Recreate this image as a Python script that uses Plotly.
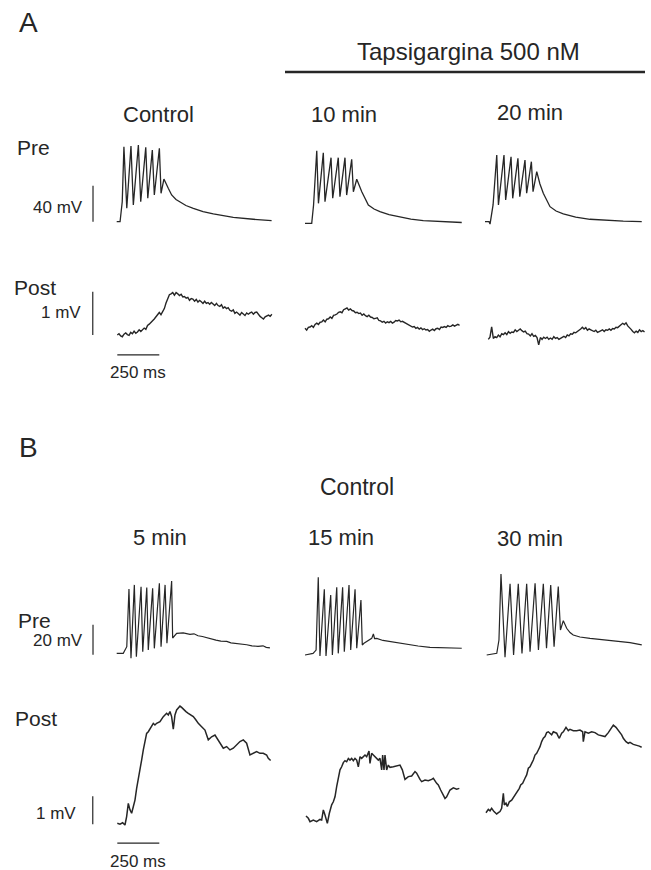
import numpy as np
import plotly.graph_objects as go

W, H = 651, 870
INK = "#262626"
FONT = "Liberation Sans, Arial, Helvetica, sans-serif"
PX_PER_MS = 42 / 250.0  # horizontal scale shared by all traces

# ---------------- DATA (time in ms, membrane potential in mV) ----------------
# Panel A, presynaptic (Pre)
a_ctrl_pre_t = [0, 20, 33, 43, 60, 85, 99, 129, 143, 173, 185, 212, 224, 254, 264, 281,
                307, 327, 353, 377, 412, 456, 514, 575, 694, 813, 922]
a_ctrl_pre_v = [0, 0, 22.2, 83.3, 14.9, 84.1, 18.6, 85.2, 22.2, 82.7, 26, 79.7, 29.7, 81.6, 31.6, 47.4,
                37.1, 29.7, 24.7, 21.9, 18, 14.9, 11.3, 8.6, 4.9, 2.7, 1.1]

a_10_pre_t = [0, 40, 51, 70, 80, 109, 119, 155, 165, 198, 208, 238, 248, 278, 288, 308, 338,
              377, 411, 446, 500, 565, 630, 704, 933]
a_10_pre_v = [0, 0, 20.3, 80.7, 22.2, 78.4, 24, 72.9, 27.8, 72.9, 29.6, 72.9, 31.4, 71.1, 35.1, 48.9, 35.1,
              20.3, 15.9, 12.9, 9.6, 6.7, 4.6, 2.9, 0.9]

a_20_pre_t = [0, 24, 30, 48, 70, 80, 113, 123, 155, 165, 196, 207, 238, 248, 276, 286, 308, 327,
              347, 387, 423, 466, 540, 625, 823, 933]
a_20_pre_v = [0, 0, -2.6, 18.6, 74.1, 18.6, 74.1, 24.1, 72.2, 26, 70.4, 27.8, 68.5, 31.6, 66.7, 33.3, 55.6, 41.9,
              31.6, 16.7, 11.9, 8.6, 5.2, 2.7, 0.6, 0]

# Panel A, postsynaptic (Post), sampled every 10 ms
a_post_dt = 10
a_ctrl_post_v = [0.00, 0.03, -0.02, -0.04, 0.02, 0.05, 0.01, -0.01, 0.06, 0.03, 0.09, 0.04,
                 0.07, 0.12, 0.08, 0.11, 0.16, 0.13, 0.22, 0.25, 0.28, 0.33, 0.37, 0.42,
                 0.45, 0.52, 0.47, 0.55, 0.61, 0.74, 0.86, 0.93, 0.95, 0.98, 0.92, 0.98,
                 0.95, 0.91, 0.94, 0.88, 0.89, 0.85, 0.87, 0.80, 0.84, 0.83, 0.78, 0.82,
                 0.76, 0.80, 0.77, 0.73, 0.78, 0.73, 0.75, 0.71, 0.75, 0.72, 0.68, 0.73,
                 0.68, 0.66, 0.70, 0.62, 0.65, 0.61, 0.63, 0.57, 0.55, 0.58, 0.50, 0.53,
                 0.49, 0.46, 0.52, 0.49, 0.45, 0.51, 0.48, 0.51, 0.53, 0.48, 0.52, 0.53,
                 0.47, 0.43, 0.40, 0.37, 0.42, 0.44, 0.46, 0.43, 0.48]
a_10_post_v = [0.00, -0.04, 0.02, 0.03, 0.06, 0.02, 0.09, 0.12, 0.09, 0.14, 0.15, 0.19,
               0.15, 0.21, 0.22, 0.26, 0.23, 0.30, 0.31, 0.33, 0.37, 0.38, 0.36, 0.43,
               0.45, 0.47, 0.42, 0.45, 0.41, 0.40, 0.36, 0.37, 0.34, 0.35, 0.30, 0.33,
               0.29, 0.27, 0.30, 0.26, 0.25, 0.22, 0.23, 0.24, 0.18, 0.17, 0.14, 0.16,
               0.12, 0.15, 0.13, 0.16, 0.12, 0.14, 0.18, 0.17, 0.19, 0.15, 0.16, 0.14,
               0.12, 0.10, 0.07, 0.05, 0.03, 0.04, 0.00, 0.02, -0.02, 0.01, -0.03, -0.01,
               -0.04, -0.03, -0.07, -0.04, -0.02, -0.05, -0.01, 0.00, -0.03, 0.03, 0.02, 0.04,
               0.02, 0.06, 0.04, 0.05, 0.08, 0.05, 0.08, 0.09, 0.07]
a_20_post_v = [-0.10, -0.05, 0.19, -0.08, -0.04, -0.06, 0.00, -0.04, 0.03, 0.01, 0.05, 0.01,
               0.08, 0.04, 0.07, 0.06, 0.12, 0.08, 0.11, 0.14, 0.10, 0.07, 0.09, 0.03,
               0.02, -0.02, 0.03, -0.03, -0.01, -0.06, -0.23, -0.06, -0.10, -0.05, -0.08, -0.05,
               -0.10, -0.07, -0.10, -0.04, -0.08, -0.06, -0.10, -0.07, -0.05, -0.03, -0.06, 0.00,
               -0.02, 0.03, 0.02, 0.06, 0.05, 0.09, 0.11, 0.14, 0.18, 0.14, 0.17, 0.11,
               0.14, 0.12, 0.09, 0.08, 0.11, 0.06, 0.08, 0.10, 0.12, 0.08, 0.12, 0.11,
               0.14, 0.11, 0.15, 0.14, 0.18, 0.17, 0.21, 0.24, 0.27, 0.24, 0.28, 0.21,
               0.18, 0.13, 0.08, 0.05, 0.09, 0.06, 0.12, 0.08, 0.10, 0.07]

# Panel B, presynaptic (Pre)
b_5_pre_t = [0, 39, 60, 73, 85, 105, 117, 145, 155, 179, 188, 214, 224, 254, 264, 288, 299, 327, 333, 357,
             396, 436, 460, 484, 510, 536, 565, 591, 620, 655, 680, 710, 740, 774, 805, 841, 871, 890, 912]
b_5_pre_v = [0, 0, 4.4, 42.9, -3.3, 45.6, -2.3, 44.4, 1.1, 43.8, 2.2, 43.4, 3.3, 46.7, 4.4, 45.6, 6.7, 48.2, 10.2, 13.3,
             13.6, 12.6, 13.0, 11.7, 11.2, 10.3, 9.4, 8.8, 8.1, 7.9, 7.0, 6.7, 6.0, 5.7, 5.0, 4.6, 5.0, 4.0, 3.6]

b_15_pre_t = [0, 48, 66, 79, 89, 115, 125, 153, 163, 189, 198, 224, 234, 262, 272, 298, 308, 333, 341, 351,
              397, 407, 414, 427, 464, 506, 554, 605, 673, 744, 833, 933]
b_15_pre_v = [0, 1.1, 3.3, 51.8, -0.7, 43.8, -0.7, 40, 0, 45.2, 1.1, 45.2, 2.2, 46.7, 3.3, 43.8, 4.5, 36.7, 6.7, 7.8,
              11.1, 14, 11, 11.1, 9.7, 8.9, 8, 7.3, 6, 5.1, 4.7, 4.5]

b_30_pre_t = [0, 60, 73, 85, 109, 139, 160, 188, 210, 238, 258, 288, 308, 337, 356, 381, 401, 426, 439, 456,
              476, 496, 515, 555, 615, 692, 774, 853, 923]
b_30_pre_v = [0, 1.1, 10, 54, -1.5, 47.4, 0, 47.4, 1.1, 47.4, 2.2, 47.8, 3.3, 47.4, 4.5, 46.7, 5.5, 45.6, 16.7, 22.9,
              17.8, 15, 13.3, 12, 11.1, 10.3, 9.5, 8.3, 6.7]

# Panel B, postsynaptic (Post)
b_5_post_t = [0, 15.9, 31.7, 45.6, 55.6, 65.5, 75.4, 85.3, 95.2, 105.2, 115.1, 125, 134.9, 144.8, 154.8,
              164.7, 174.6, 184.5, 194.4, 204.4, 214.3, 224.2, 234.1, 254, 273.8, 293.6, 303.6, 313.5, 323.4, 333.3,
              343.2, 353.2, 373, 382.9, 392.8, 408.7, 422.6, 436.5, 452.4, 468.2, 482.1, 502, 521.8, 541.6, 561.5,
              581.3, 601.2, 621, 630.9, 650.8, 670.6, 690.4, 710.3, 730.1, 750, 769.8, 789.6, 809.5, 829.3, 849.2,
              869, 888.8, 898.8, 912.6]
b_5_post_v = [0, -0.03, 0.02, -0.06, 0.24, 0.71, 0.48, 0.36, 0.59, 0.83, 1.25, 1.55, 1.90, 2.26, 2.62,
              2.98, 3.21, 3.27, 3.36, 3.45, 3.57, 3.51, 3.57, 3.63, 3.81, 3.93, 3.87, 3.99, 3.81, 3.36,
              3.87, 4.05, 4.19, 4.14, 4.07, 3.99, 3.93, 3.87, 3.81, 3.69, 3.57, 3.45, 3.33, 2.98, 3.09,
              3.15, 2.98, 2.80, 2.68, 2.74, 2.62, 2.68, 2.80, 2.92, 2.98, 2.86, 2.44, 2.50, 2.56, 2.50,
              2.50, 2.44, 2.32, 2.24]

b_15_post_t = [0, 13.9, 23.8, 43.6, 63.5, 83.3, 93.2, 103.2, 113.1, 127, 138.9, 152.8, 162.7, 172.6, 182.5,
               192.4, 202.4, 212.3, 222.2, 232.1, 242, 252, 261.9, 271.8, 281.7, 291.6, 301.6, 311.5, 321.4, 331.3,
               341.2, 351.2, 361.1, 375, 380.9, 390.8, 400.8, 410.7, 420.6, 430.5, 440.4, 450.4, 456.3, 464.3, 470.2,
               480.1, 490, 500, 519.8, 539.6, 559.5, 573.4, 589.2, 609.1, 628.9, 648.8, 658.7, 678.5, 688.4, 708.3,
               728.1, 748, 757.9, 777.7, 787.6, 801.5, 817.4, 827.3, 837.2, 857.1, 876.9, 896.8, 912.6]
b_15_post_v = [0.14, 0.06, -0.06, 0.00, -0.06, 0.02, 0.00, 0.36, 0.18, -0.12, 0.24, 0.54, 0.65, 0.83, 1.19,
               1.49, 1.79, 1.90, 2.05, 2.12, 2.08, 2.20, 2.14, 2.20, 2.12, 2.20, 2.14, 1.90, 2.26, 2.20,
               2.26, 2.32, 2.26, 2.46, 2.02, 2.38, 2.32, 2.26, 2.20, 2.14, 2.20, 1.79, 2.32, 1.79, 2.32,
               1.79, 1.96, 1.88, 1.90, 1.93, 1.96, 1.79, 1.45, 1.55, 1.57, 1.73, 1.67, 1.45, 1.37, 1.43,
               1.40, 1.45, 1.49, 1.31, 1.25, 1.07, 0.86, 0.77, 0.83, 1.07, 1.15, 1.10, 1.13]

b_30_post_t = [0, 13.9, 23.8, 33.7, 47.6, 63.5, 73.4, 83.3, 93.2, 103.2, 109.1, 119, 127, 138.9, 152.8,
               166.7, 182.5, 198.4, 206.3, 218.2, 232.1, 242, 252, 261.9, 271.8, 281.7, 291.6, 301.6, 311.5, 321.4,
               331.3, 341.2, 351.2, 361.1, 371, 380.9, 390.8, 400.8, 410.7, 420.6, 430.5, 436.5, 450.4, 460.3, 476.2,
               490, 500, 519.8, 539.6, 559.5, 575.4, 579.3, 589.2, 609.1, 628.9, 648.8, 668.6, 688.4, 708.3, 728.1,
               748, 757.9, 773.8, 787.6, 807.5, 817.4, 833.3, 847.2, 857.1, 876.9, 896.8, 912.6, 926.5]
b_30_post_v = [0.26, 0.38, 0.33, 0.42, 0.30, 0.21, 0.26, 0.30, 0.42, 0.95, 0.54, 0.60, 0.48, 0.65, 0.71,
               0.83, 0.95, 1.13, 1.25, 1.31, 1.49, 1.61, 1.85, 1.90, 2.02, 2.14, 2.32, 2.38, 2.50, 2.62,
               2.80, 2.92, 2.98, 3.12, 3.15, 3.10, 3.04, 3.15, 3.12, 3.10, 2.98, 2.92, 3.10, 3.15, 3.31,
               3.19, 3.24, 3.19, 3.19, 3.21, 3.15, 2.80, 3.15, 3.10, 3.15, 3.12, 3.04, 3.00, 2.98, 3.12,
               3.33, 3.39, 3.31, 3.21, 3.04, 2.92, 2.80, 2.74, 2.77, 2.70, 2.68, 2.64, 2.60]

# Scale bars (value units)
bar_time_ms = 250
bar_a_pre_mv = 40
bar_b_pre_mv = 20
bar_post_mv = 1

# ---------------- LAYOUT: where each trace sits (px origin, px per mV) ----------------
def uniform_t(v, dt):
    return [i * dt for i in range(len(v))]

panels = [
    # t, v, x0_px, y0_px, px_per_mV, width
    (a_ctrl_pre_t, a_ctrl_pre_v, 116.7, 221.7, 0.9, 1.3),
    (a_10_pre_t, a_10_pre_v, 305.0, 223.3, 0.9, 1.3),
    (a_20_pre_t, a_20_pre_v, 485.0, 221.7, 0.9, 1.3),
    (uniform_t(a_ctrl_post_v, a_post_dt), a_ctrl_post_v, 117.3, 335.0, 43.3, 1.4),
    (uniform_t(a_10_post_v, a_post_dt), a_10_post_v, 305.0, 328.3, 43.3, 1.4),
    (uniform_t(a_20_post_v, a_post_dt), a_20_post_v, 488.3, 335.0, 43.3, 1.4),
    (b_5_pre_t, b_5_pre_v, 116.7, 653.3, 1.5, 1.2),
    (b_15_pre_t, b_15_pre_v, 305.0, 655.0, 1.5, 1.2),
    (b_30_pre_t, b_30_pre_v, 486.7, 655.0, 1.5, 1.2),
    (b_5_post_t, b_5_post_v, 117.3, 823.3, 28.0, 1.5),
    (b_15_post_t, b_15_post_v, 306.0, 820.0, 28.0, 1.5),
    (b_30_post_t, b_30_post_v, 486.0, 820.0, 28.0, 1.5),
]

fig = go.Figure()
axes_layout = {}
for i, (t, v, x0, y0, sy, lw) in enumerate(panels, start=1):
    sfx = "" if i == 1 else str(i)
    fig.add_trace(go.Scatter(
        x=t, y=v, xaxis="x" + sfx, yaxis="y" + sfx, mode="lines",
        line=dict(color=INK, width=lw), hoverinfo="skip", showlegend=False))
    axes_layout["xaxis" + sfx] = dict(domain=[0, 1], range=[-x0 / PX_PER_MS, (W - x0) / PX_PER_MS],
                                      visible=False, fixedrange=True, anchor="y" + sfx)
    axes_layout["yaxis" + sfx] = dict(domain=[0, 1], range=[(y0 - H) / sy, y0 / sy],
                                      visible=False, fixedrange=True, anchor="x" + sfx)
fig.update_layout(**axes_layout)

shapes = []
def vbar(ax, t_pos, v0, v1):
    shapes.append(dict(type="line", xref="x" + ax, yref="y" + ax, x0=t_pos, x1=t_pos, y0=v0, y1=v1,
                       line=dict(color=INK, width=1.2)))
def hbar(ax, v_pos, t0, t1):
    shapes.append(dict(type="line", xref="x" + ax, yref="y" + ax, x0=t0, x1=t1, y0=v_pos, y1=v_pos,
                       line=dict(color=INK, width=1.2)))

vbar("", -141, 0, bar_a_pre_mv)          # 40 mV
vbar("4", -146, 0, bar_post_mv)          # 1 mV (A)
hbar("4", -0.46, 0, bar_time_ms)         # 250 ms (A)
vbar("7", -141, -1, -1 + bar_b_pre_mv)   # 20 mV
vbar("10", -146, -0.03, -0.03 + bar_post_mv)  # 1 mV (B)
hbar("10", -0.71, 0, bar_time_ms)        # 250 ms (B)
# drug application bar
shapes.append(dict(type="line", xref="paper", yref="paper", x0=285 / W, x1=645 / W,
                   y0=1 - 72 / H, y1=1 - 72 / H, line=dict(color=INK, width=2.5)))

annots = []
def label(text, x, y, size, anchor="center"):
    annots.append(dict(text=text, x=x / W, y=1 - y / H, xref="paper", yref="paper",
                       xanchor=anchor, yanchor="middle", showarrow=False,
                       font=dict(family=FONT, size=size, color=INK)))

label("A", 28, 23, 28)
label("Tapsigargina 500 nM", 468, 52, 24)
label("Control", 158, 114, 22)
label("10 min", 344, 114, 22)
label("20 min", 530, 112, 22)
label("Pre", 33, 148, 21)
label("40 mV", 58, 207, 17)
label("Post", 35, 287, 21)
label("1 mV", 61, 312, 17)
label("250 ms", 138, 373, 17)

label("B", 28, 447, 28)
label("Control", 357, 487, 23)
label("5 min", 160, 537, 22)
label("15 min", 341, 537, 22)
label("30 min", 530, 538, 22)
label("Pre", 34, 620, 21)
label("20 mV", 58, 640, 17)
label("Post", 36, 718, 21)
label("1 mV", 56, 813, 17)
label("250 ms", 138, 861, 17)

fig.update_layout(width=W, height=H, autosize=False, margin=dict(l=0, r=0, t=0, b=0),
                  paper_bgcolor="white", plot_bgcolor="rgba(0,0,0,0)",
                  shapes=shapes, annotations=annots, showlegend=False)

fig.write_html("out.html", config={"displayModeBar": False, "staticPlot": True},
               post_script="document.body.style.margin='0';document.body.style.overflow='hidden';")
